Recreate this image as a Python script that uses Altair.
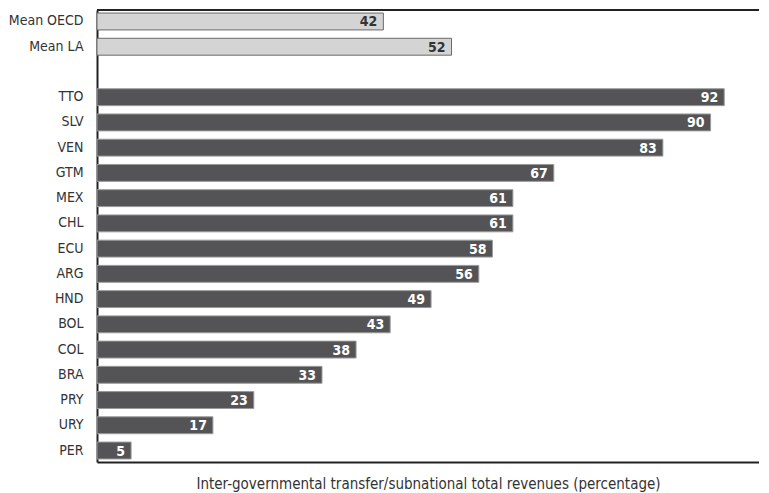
import altair as alt
import pandas as pd

categories = ["Mean OECD", "Mean LA", "TTO", "SLV", "VEN", "GTM", "MEX", "CHL",
              "ECU", "ARG", "HND", "BOL", "COL", "BRA", "PRY", "URY", "PER"]
values = [42, 52, 92, 90, 83, 67, 61, 61, 58, 56, 49, 43, 38, 33, 23, 17, 5]
groups = ["mean", "mean"] + ["country"] * 15

order = ["Mean OECD", "Mean LA", " "] + categories[2:]

df = pd.DataFrame({"cat": categories, "value": values, "group": groups})

FONT = "DejaVu Sans Condensed, Roboto Condensed, Liberation Sans Narrow, Roboto, sans-serif"
W, H = 662, 452

y = alt.Y("cat:N", sort=order, scale=alt.Scale(domain=order, paddingInner=0.33, paddingOuter=0.12),
          axis=alt.Axis(title=None, ticks=False, labelPadding=14, labelFontSize=14,
                        labelColor="#333333", labelFont=FONT, domainColor="#222222",
                        domainWidth=2))
x = alt.X("value:Q", scale=alt.Scale(domain=[0, 97.1], nice=False, zero=True),
          axis=alt.Axis(title="Inter-governmental transfer/subnational total revenues (percentage)",
                        labels=False, ticks=False, grid=False, domainColor="#222222",
                        domainWidth=2, titleFont=FONT, titleFontSize=15,
                        titleFontWeight="normal", titleColor="#333333", titlePadding=14))

bars = alt.Chart(df).mark_bar(strokeWidth=1).encode(
    x=x, y=y,
    color=alt.Color("group:N", scale=alt.Scale(domain=["mean", "country"],
                                               range=["#d4d4d4", "#545456"]), legend=None),
    stroke=alt.Stroke("group:N", scale=alt.Scale(domain=["mean", "country"],
                                                 range=["#6a6a6a", "#9a9a9a"]), legend=None),
)

labels = alt.Chart(df).mark_text(align="right", baseline="middle", dx=-6, dy=1,
                                 font=FONT, fontSize=14, fontWeight="bold").encode(
    x="value:Q", y=alt.Y("cat:N", sort=order),
    text="value:Q",
    color=alt.Color("group:N", scale=alt.Scale(domain=["mean", "country"],
                                               range=["#333333", "#ffffff"]), legend=None),
)

top_rule = alt.Chart(df).mark_rule(color="#222222", strokeWidth=2).encode(
    x=alt.value(0), x2=alt.value(W), y=alt.value(0))

chart = alt.layer(bars, labels, top_rule).resolve_scale(color="independent").properties(
    width=W, height=H,
    autosize=alt.AutoSizeParams(type="none"),
    padding={"left": 89, "top": 2, "right": 0, "bottom": 30},
).configure_view(stroke=None)

chart.save("out.html", embed_options={"renderer": "svg", "actions": False})
